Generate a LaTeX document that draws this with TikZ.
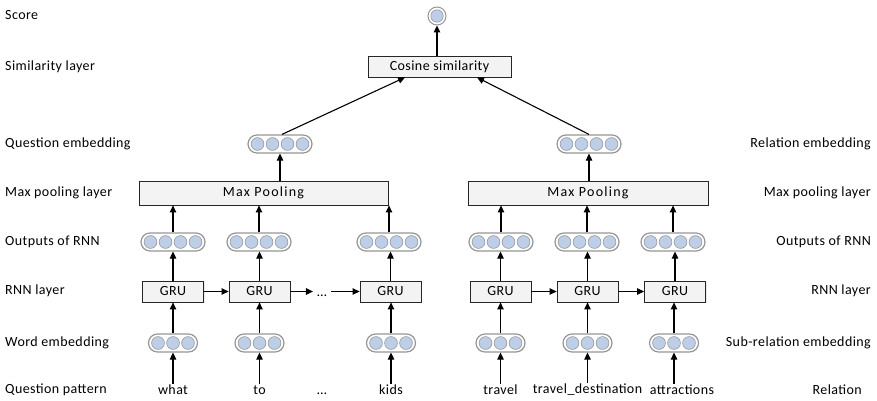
\documentclass[tikz,border=0pt]{standalone}
\usepackage{fontspec}
\setmainfont[LetterSpace=3]{Carlito}
\newfontfamily\wideface[LetterSpace=9]{Carlito}
\usetikzlibrary{arrows.meta,shadows}
\definecolor{cellblue}{RGB}{189,207,232}
\definecolor{boxgray}{RGB}{243,243,243}
\definecolor{rimgray}{RGB}{150,150,150}

\tikzset{
  txt/.style={font=\fontsize{14}{16}\selectfont, inner sep=1pt},
  lbl/.style={txt, anchor=west, inner sep=0pt},
  rlbl/.style={txt, anchor=east, inner sep=0pt},
  pill/.style={draw=rimgray, line width=1.2pt, fill=white, rounded corners=9pt,
    minimum height=18pt, inner sep=0pt},
  cell/.style={fill=cellblue, draw=rimgray, line width=0.6pt},
  layerbox/.style={txt, draw=black!85, fill=boxgray, line width=0.8pt, inner sep=0pt,
    minimum height=21pt, drop shadow={opacity=0.18, shadow xshift=1pt, shadow yshift=-1.2pt}},
  arr/.style={-{Triangle[length=7pt,width=6.5pt]}, line width=1.1pt, black},
  dotsnode/.style={txt, inner xsep=4pt, inner ysep=0pt, text height=9pt, text depth=0pt},
}

% vector of n cells inside a rounded pill: name, x, y, n
\newcommand{\vecpill}[4]{%
  \pgfmathsetmacro{\pillw}{#4*15+4}
  \node[pill, minimum width=\pillw pt] (#1) at (#2,#3) {};
  \foreach \k in {1,...,#4} {
    \pgfmathsetmacro{\cx}{#2+(\k-(#4+1)/2)*15}
    \path[cell] (\cx,#3) circle[radius=6.4pt];
  }
}

\begin{document}
\begin{tikzpicture}[x=1pt,y=-1pt]
\useasboundingbox (0,0) rectangle (877,401);

% layer names, left side
\node[lbl] (lscore) at (5,15) {Score};
\node[lbl] (lsim) at (5,67) {Similarity layer};
\node[lbl] (lqemb) at (5,144) {Question embedding};
\node[lbl] (lpool) at (5,193) {Max pooling layer};
\node[lbl] (lout) at (5,242) {Outputs of RNN};
\node[lbl] (lrnn) at (5,291) {RNN layer};
\node[lbl] (lword) at (5,343) {Word embedding};
\node[lbl] (lqp) at (5,390) {Question pattern};

% layer names, right side
\node[rlbl] (rremb) at (871,144) {Relation embedding};
\node[rlbl] (rpool) at (871,193) {Max pooling layer};
\node[rlbl] (rout) at (871,242) {Outputs of RNN};
\node[rlbl] (rrnn) at (871,291) {RNN layer};
\node[rlbl] (rsub) at (871,343) {Sub-relation embedding};
\node[rlbl] (rrel) at (862,390) {Relation};

% score and similarity
\node[circle, draw=rimgray, line width=1pt, fill=white, minimum size=18pt, inner sep=0pt] (score) at (437,16) {};
\path[cell] (score.center) circle[radius=6.2pt];
\node[layerbox, minimum width=143pt] (cos) at (439.5,66.5) {Cosine similarity};

% sentence embeddings
\vecpill{qemb}{280}{144}{4}
\vecpill{remb}{589}{144}{4}

% max pooling
\node[layerbox, minimum width=249pt, minimum height=24pt] (qpool) at (263.5,193) {\wideface Max Pooling};
\node[layerbox, minimum width=240pt, minimum height=24pt] (rpoolbox) at (588,193) {\wideface Max Pooling};

% RNN outputs
\vecpill{o1}{173}{242}{4}
\vecpill{o2}{259}{242}{4}
\vecpill{o3}{389}{242}{4}
\vecpill{o4}{501}{242}{4}
\vecpill{o5}{587}{242}{4}
\vecpill{o6}{673}{242}{4}

% GRU cells
\node[layerbox, minimum width=61pt] (g1) at (173,291.5) {GRU};
\node[layerbox, minimum width=61pt] (g2) at (259.5,291.5) {GRU};
\node[dotsnode] (gdots) at (322,291.5) {…};
\node[layerbox, minimum width=61pt] (g3) at (390.5,291.5) {GRU};
\node[layerbox, minimum width=61pt] (g4) at (500.5,291.5) {GRU};
\node[layerbox, minimum width=61pt] (g5) at (587.5,291.5) {GRU};
\node[layerbox, minimum width=61pt] (g6) at (675,291.5) {GRU};

% word / sub-relation embeddings
\vecpill{e1}{173}{343}{3}
\vecpill{e2}{259.5}{343}{3}
\vecpill{e3}{391}{343}{3}
\vecpill{e4}{500.5}{343}{3}
\vecpill{e5}{587.5}{343}{3}
\vecpill{e6}{674}{343}{3}

% input tokens
\node[txt] (w1) at (173,390) {what};
\node[txt] (w2) at (259.5,390) {to};
\node[dotsnode] (wdots) at (322,390) {…};
\node[txt] (w3) at (391,390) {kids};
\node[txt] (w4) at (500.5,390) {travel};
\node[txt] (w5) at (587.5,390) {travel\_destination};
\node[txt] (w6) at (682,390) {attractions};

% connectors
\draw[arr] (cos.north -| score) -- (score.south);
\draw[arr] ([xshift=2pt]qemb.north) -- ([xshift=-34.5pt]cos.south);
\draw[arr] (remb.north) -- ([xshift=37.5pt]cos.south);
\draw[arr] (qpool.north -| qemb) -- (qemb.south);
\draw[arr] (rpoolbox.north -| remb) -- (remb.south);

\foreach \o in {o1,o2,o3} \draw[arr] (\o.north) -- (\o.north |- qpool.south);
\foreach \o in {o4,o5,o6} \draw[arr] (\o.north) -- (\o.north |- rpoolbox.south);

\foreach \i in {1,...,5} {
  \draw[arr] (g\i.north) -- (g\i.north |- o\i.south);
  \draw[arr] (e\i.north) -- (e\i.north |- g\i.south);
  \draw[arr] (w\i.north) -- (w\i.north |- e\i.south);
}
\draw[arr] (g6.north) -- (g6.north |- o6.south);
\draw[arr] (e6.north) -- (e6.north |- g6.south);
\draw[arr] (w6.north -| e6) -- (e6.south);

\draw[arr] (g1.east) -- (g2.west);
\draw[arr] (g2.east) -- (gdots.west);
\draw[arr] (gdots.east) -- (g3.west);
\draw[arr] (g4.east) -- (g5.west);
\draw[arr] (g5.east) -- (g6.west);
\end{tikzpicture}
\end{document}
